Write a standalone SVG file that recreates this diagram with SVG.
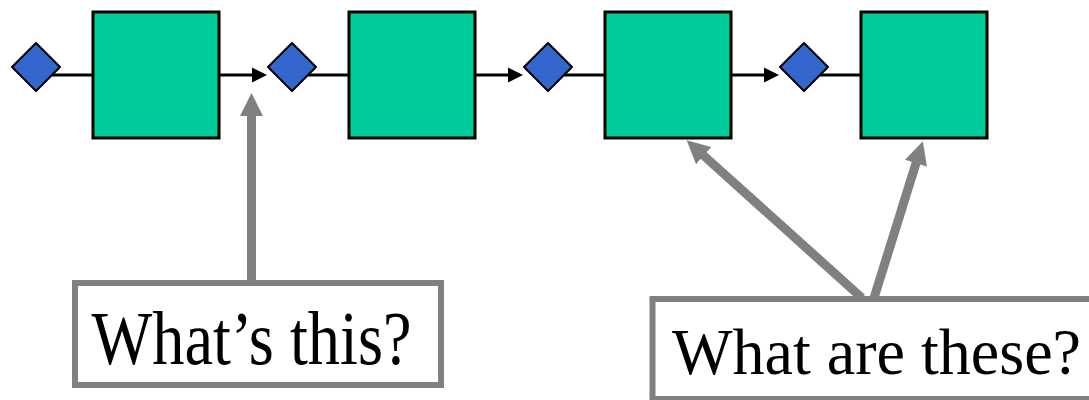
<svg xmlns="http://www.w3.org/2000/svg" width="1089" height="400" viewBox="0 0 1089 400">
<style>
.box{fill:#00CC99;stroke:#000;stroke-width:3}
.dia{fill:#3366CC;stroke:#000;stroke-width:2;stroke-linejoin:round}
.flow{stroke:#000;stroke-width:3;fill:none}
.call{stroke:#808080;stroke-width:9;fill:none}
.lbl{fill:#fff;stroke:#808080;stroke-width:6}
.txt{font-family:"Liberation Serif","Times New Roman",serif;fill:#000}
</style>
<defs>
<marker id="blk" markerUnits="userSpaceOnUse" markerWidth="16" markerHeight="16" viewBox="0 0 16 16" refX="1" refY="8" orient="auto">
<path d="M0,0.5 L15,8 L0,15.5 z" fill="#000"/>
</marker>
<marker id="gry" markerUnits="userSpaceOnUse" markerWidth="24" markerHeight="24" viewBox="0 0 24 24" refX="1" refY="12" orient="auto">
<path d="M0,0.5 L23,12 L0,23.5 z" fill="#808080"/>
</marker>
</defs>
<g id="connectors">
<line class="flow" x1="36" y1="75" x2="93" y2="75"/>
<line class="flow" x1="220" y1="75" x2="253" y2="75" marker-end="url(#blk)"/>
<line class="flow" x1="292" y1="75" x2="349" y2="75"/>
<line class="flow" x1="476" y1="75" x2="509" y2="75" marker-end="url(#blk)"/>
<line class="flow" x1="548" y1="75" x2="605" y2="75"/>
<line class="flow" x1="732" y1="75" x2="765" y2="75" marker-end="url(#blk)"/>
<line class="flow" x1="804" y1="75" x2="861" y2="75"/>
<line class="call" x1="251.5" y1="282" x2="251.5" y2="115" marker-end="url(#gry)"/>
<line class="call" x1="862" y1="298" x2="703" y2="155" marker-end="url(#gry)"/>
<line class="call" x1="874" y1="298" x2="916.3" y2="162.3" marker-end="url(#gry)"/>
</g>
<g id="d1"><polygon class="dia" points="36,43 60,67 36,91 12,67"/></g>
<g id="b1"><rect class="box" x="93" y="12" width="126" height="126"/></g>
<g id="d2"><polygon class="dia" points="292,43 316,67 292,91 268,67"/></g>
<g id="b2"><rect class="box" x="349" y="12" width="126" height="126"/></g>
<g id="d3"><polygon class="dia" points="548,43 572,67 548,91 524,67"/></g>
<g id="b3"><rect class="box" x="605" y="12" width="126" height="126"/></g>
<g id="d4"><polygon class="dia" points="804,43 828,67 804,91 780,67"/></g>
<g id="b4"><rect class="box" x="861" y="12" width="126" height="126"/></g>
<g id="label1">
<rect class="lbl" x="75" y="283" width="366" height="102"/>
<text class="txt" x="91.5" y="364" font-size="76" textLength="320" lengthAdjust="spacingAndGlyphs">What’s this?</text>
</g>
<g id="label2">
<rect class="lbl" x="652.5" y="299" width="500" height="100"/>
<text class="txt" x="672" y="374" font-size="66" textLength="409" lengthAdjust="spacingAndGlyphs">What are these?</text>
</g>
</svg>
